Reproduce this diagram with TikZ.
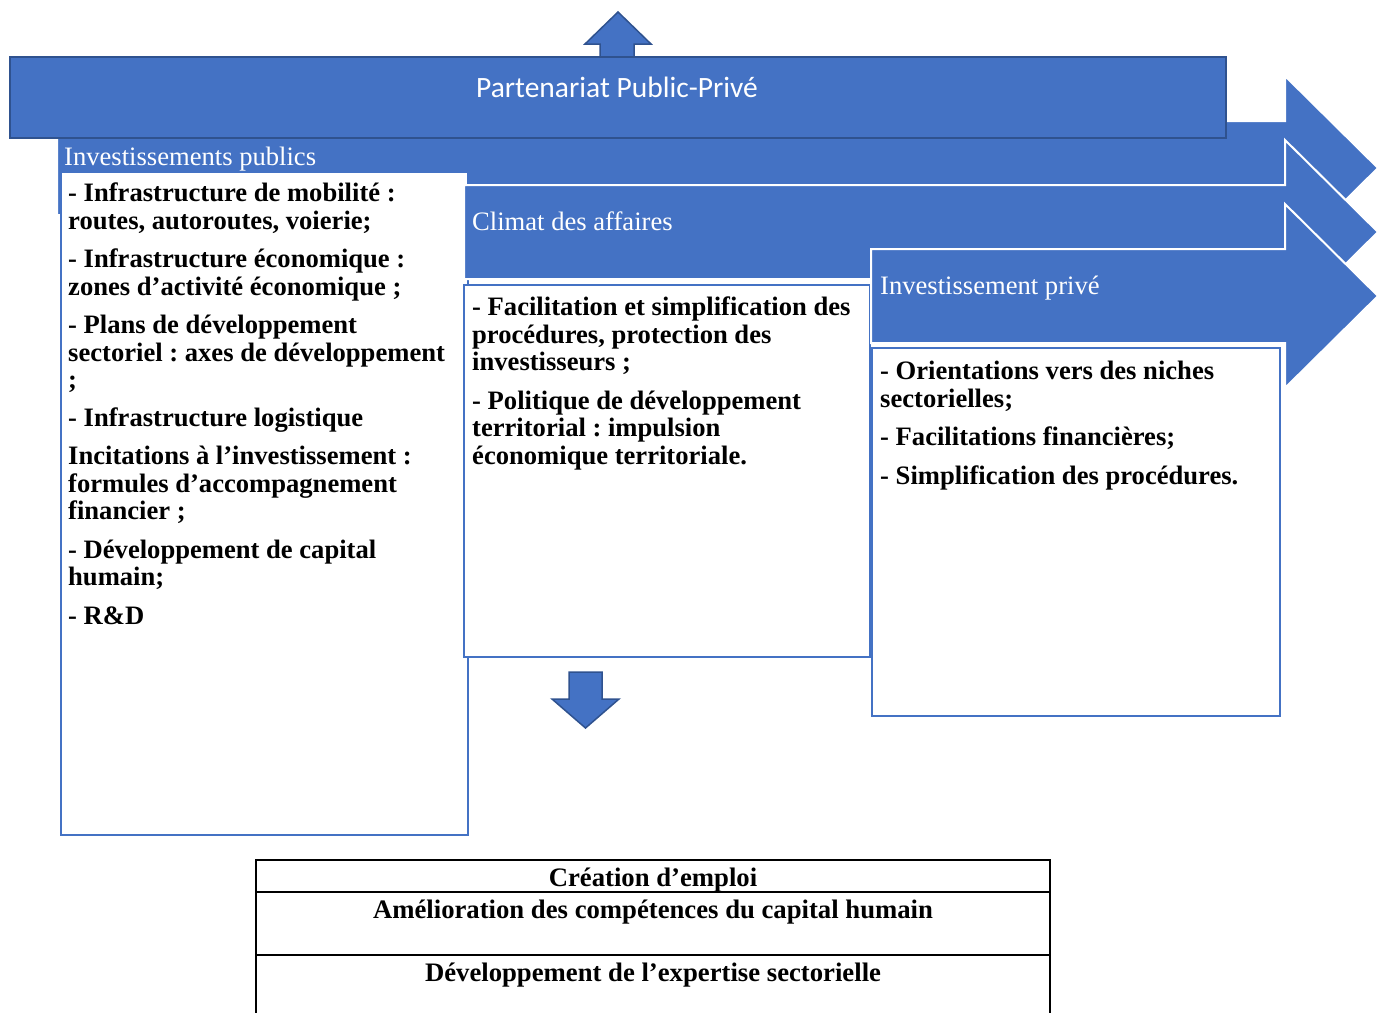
\documentclass[tikz,border=0pt]{standalone}
\usepackage{fontspec}
\setmainfont{Liberation Serif}
\newfontfamily\carl{Carlito}
\frenchspacing
\definecolor{smblue}{HTML}{4472C4}
\definecolor{smdark}{HTML}{2F528F}
\definecolor{boxline}{HTML}{4472C4}
\begin{document}
\begin{tikzpicture}[x=1pt,y=-1pt,
  bigarrow/.style={fill=smblue,draw=white,line width=2pt,line join=miter},
  listbox/.style={fill=white,draw=boxline,line width=2pt},
  smallarrow/.style={fill=smblue,draw=smdark,line width=1.5pt,line join=miter},
  lbltext/.style={anchor=west,inner sep=0pt,text=white,font=\frenchspacing\fontsize{26.6}{30}\selectfont},
  listtext/.style={anchor=north west,inner sep=0pt,align=left,font=\frenchspacing\bfseries\fontsize{26.6}{27.5}\selectfont},
  tabtext/.style={inner sep=0pt,font=\bfseries\fontsize{26.7}{30}\selectfont},
  tabline/.style={draw=black,line width=2pt}
]
\useasboundingbox (0,0) rectangle (1384,1012);
% arrows and boxes
\draw[bigarrow] (57,121) -- (1285,121) -- (1285,76) -- (1378,168) -- (1285,260) -- (1285,215) -- (57,215) -- cycle;
\draw[listbox] (61,172) rectangle (468,835);
\draw[bigarrow] (464,185) -- (1285,185) -- (1285,140) -- (1378,232) -- (1285,324) -- (1285,279) -- (464,279) -- cycle;
\draw[listbox] (464,285) rectangle (870,657);
\draw[bigarrow] (871,249) -- (1285,249) -- (1285,204) -- (1378,296) -- (1285,388) -- (1285,343) -- (871,343) -- cycle;
\draw[listbox] (872,348) rectangle (1280,716);
% up arrow and PPP bar
\draw[smallarrow] (600,60) -- (600,44) -- (585,44) -- (618,12) -- (651,44) -- (634,44) -- (634,60) -- cycle;
\draw[fill=smblue,draw=smdark,line width=2pt] (10,57) rectangle (1226,138);
\node[lbltext,anchor=center,font=\carl\fontsize{29.5}{34}\selectfont] (ppp) at (617,87) {Partenariat Public-Privé};
% labels
\node[lbltext] (pub) at (64,159) {Investissements publics};
\node[lbltext] (clim) at (472,221) {Climat des affaires};
\node[lbltext] (priv) at (880,288) {Investissement privé};
% lists
\node[listtext] (l1) at (68,183) {- Infrastructure de mobilité :\\routes, autoroutes, voierie;\\[11pt]
- Infrastructure économique :\\zones d’activité économique ;\\[11pt]
- Plans de développement\\sectoriel : axes de développement\\;\\[10pt]
- Infrastructure logistique\\[11pt]
Incitations à l’investissement :\\formules d’accompagnement\\financier ;\\[11pt]
- Développement de capital\\humain;\\[11pt]
- R\&D};
\node[listtext] (l2) at (472,297) {- Facilitation et simplification des\\procédures, protection des\\investisseurs ;\\[11pt]
- Politique de développement\\territorial : impulsion\\économique territoriale.};
\node[listtext] (l3) at (880,361) {- Orientations vers des niches\\sectorielles;\\[11pt]
- Facilitations financières;\\[11pt]
- Simplification des procédures.};
% down arrow
\draw[smallarrow] (569,672) -- (602,672) -- (602,699) -- (619,699) -- (585.5,728) -- (552,699) -- (569,699) -- cycle;
% bottom table
\draw[tabline] (256,1014) -- (256,860) -- (1050,860) -- (1050,1014);
\draw[tabline] (256,892) -- (1050,892);
\draw[tabline] (256,955) -- (1050,955);
\node[tabtext] (t1) at (653,880) {Création d’emploi};
\node[tabtext] (t2) at (653,912) {Amélioration des compétences du capital humain};
\node[tabtext] (t3) at (653,975) {Développement de l’expertise sectorielle};
\end{tikzpicture}
\end{document}
